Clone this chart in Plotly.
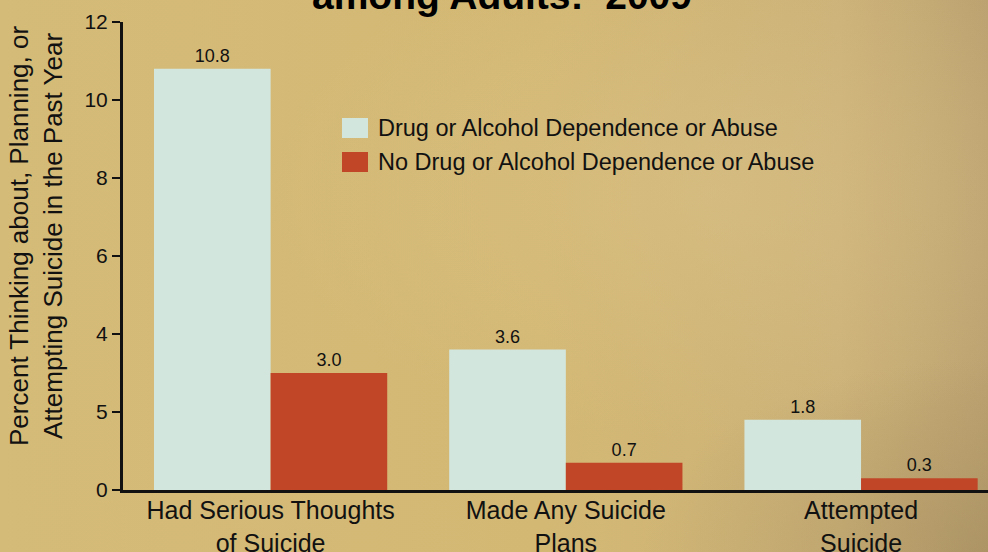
import plotly.graph_objects as go
import base64

categories = ["Had Serious Thoughts<br>of Suicide", "Made Any Suicide<br>Plans", "Attempted<br>Suicide"]
series_names = ["Drug or Alcohol Dependence or Abuse", "No Drug or Alcohol Dependence or Abuse"]
dep_values = [10.8, 3.6, 1.8]
nodep_values = [3.0, 0.7, 0.3]
ytick_vals = [0, 2, 4, 6, 8, 10, 12]
ytick_text = ["0", "5", "4", "6", "8", "10", "12"]

colors = ["#d3e6de", "#c14628"]
xpos = list(range(len(categories)))

W, H = 988, 552
L, R, T, B = 123, 0, 22, 62
PW, PH = W - L - R, H - T - B


def px_x(px):
    return (px - L) / PW


def px_y(py):
    return (H - B - py) / PH


svg = """<svg xmlns='http://www.w3.org/2000/svg' width='988' height='552' preserveAspectRatio='none'>
<defs>
<linearGradient id='g' x1='0' y1='0' x2='1' y2='0'>
<stop offset='0' stop-color='#d5bb78'/>
<stop offset='0.55' stop-color='#d3b874'/>
<stop offset='0.85' stop-color='#ccb278'/>
<stop offset='1' stop-color='#bca270'/>
</linearGradient>
<radialGradient id='r' cx='0.72' cy='0.35' r='0.45'>
<stop offset='0' stop-color='#dcc38a' stop-opacity='0.45'/>
<stop offset='1' stop-color='#dcc38a' stop-opacity='0'/>
</radialGradient>
<radialGradient id='d' cx='1' cy='1' r='0.35'>
<stop offset='0' stop-color='#9c8458' stop-opacity='0.45'/>
<stop offset='1' stop-color='#9c8458' stop-opacity='0'/>
</radialGradient>
</defs>
<rect width='988' height='552' fill='url(#g)'/>
<rect width='988' height='552' fill='url(#r)'/>
<rect width='988' height='552' fill='url(#d)'/>
</svg>"""
bg_src = "data:image/svg+xml;base64," + base64.b64encode(svg.encode()).decode()

fig = go.Figure()
for name, vals, col in [(series_names[0], dep_values, colors[0]), (series_names[1], nodep_values, colors[1])]:
    fig.add_trace(go.Bar(
        x=xpos, y=vals, name=name, marker=dict(color=col, line=dict(width=0)),
        text=[f"{v:.1f}" for v in vals], textposition="outside", cliponaxis=False,
        constraintext="none",
        textfont=dict(family="Arial, Liberation Sans", size=18, color="#111111"),
        showlegend=False, hoverinfo="skip",
    ))

fig.update_layout(
    width=W, height=H,
    margin=dict(l=L, r=R, t=T, b=B, autoexpand=False),
    paper_bgcolor="#d3b874", plot_bgcolor="rgba(0,0,0,0)",
    barmode="group", bargap=0.21, bargroupgap=0,
    font=dict(family="Arial, Liberation Sans", color="#111111"),
    images=[dict(source=bg_src, xref="paper", yref="paper", x=px_x(0), y=px_y(0),
                 sizex=W / PW, sizey=H / PH, xanchor="left", yanchor="top",
                 sizing="stretch", layer="below")],
    xaxis=dict(range=[-0.5, 2.43], tickvals=xpos, ticktext=categories, showgrid=False,
               zeroline=False, showline=True, linecolor="#111111", linewidth=3,
               automargin=False, ticklabelstandoff=-4,
               ticks="", tickfont=dict(family="Arial, Liberation Sans", size=25, color="#111111")),
    yaxis=dict(range=[0, 12], tickvals=ytick_vals, ticktext=ytick_text, showgrid=False,
               zeroline=False, showline=True, linecolor="#111111", linewidth=3,
               automargin=False,
               ticks="outside", ticklen=8, tickwidth=2, tickcolor="#111111",
               tickfont=dict(size=21, color="#111111")),
)

# y-axis title as annotation (centred a little above the plot middle, as in the reference)
fig.add_annotation(text="Percent Thinking about, Planning, or<br>Attempting Suicide in the Past Year",
                   xref="paper", yref="paper", x=px_x(36), y=px_y(236), textangle=-90,
                   xanchor="center", yanchor="middle", showarrow=False,
                   font=dict(size=26, color="#111111"))

# title (partially cut at the top of the page)
fig.add_annotation(text="<b>among Adults:  2009</b>", xref="paper", yref="paper",
                   x=px_x(502), y=px_y(19), xanchor="center", yanchor="bottom",
                   showarrow=False, font=dict(size=39, color="#000000"))

# legend drawn manually
leg_y = [128, 162]
for i, (name, col) in enumerate(zip(series_names, colors)):
    yc = leg_y[i]
    fig.add_shape(type="rect", xref="paper", yref="paper",
                  x0=px_x(342), x1=px_x(368),
                  y0=px_y(yc + 10), y1=px_y(yc - 10),
                  fillcolor=col, line=dict(width=0))
    fig.add_annotation(text=name, xref="paper", yref="paper",
                       x=px_x(376), y=px_y(yc), xanchor="left", yanchor="middle",
                       showarrow=False, font=dict(size=23.5, color="#111111"))

fig.write_html("out.html", config={"displayModeBar": False},
               post_script="document.body.style.margin='0';document.body.style.overflow='hidden';")
